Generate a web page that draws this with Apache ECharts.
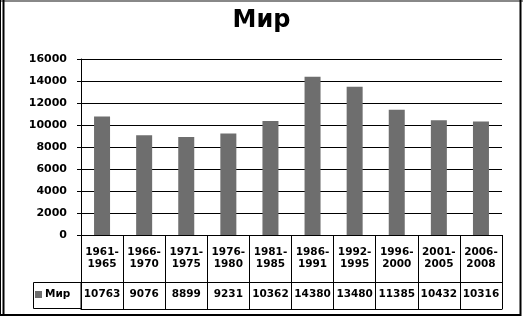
<!doctype html>
<html><head><meta charset="utf-8" />
<style>
  html,body,#app{margin:0;padding:0;width:523px;height:320px;background:#ffffff;overflow:hidden}
</style>
<script src="https://cdn.jsdelivr.net/npm/echarts@6.0.0/dist/echarts.min.js"></script>
</head><body><div id="app"></div>
<script>
// data
const periods = ['1961-\n1965','1966-\n1970','1971-\n1975','1976-\n1980','1981-\n1985','1986-\n1991','1992-\n1995','1996-\n2000','2001-\n2005','2006-\n2008'];
const mirValues = [10763, 9076, 8899, 9231, 10362, 14380, 13480, 11385, 10432, 10316];
const yTicks = { min: 0, max: 16000, step: 2000 };
const seriesName = 'Мир';

const font = 'DejaVu Sans';
const barColor = '#6e6e6e';
const chart = echarts.init(document.getElementById('app'), null, { renderer: 'canvas' });

const option = {
  backgroundColor: '#ffffff',
  animation: false,
  title: { text: seriesName, left: 'center', top: 4,
    textStyle: { fontFamily: font, fontSize: 24, fontWeight: 'bold', color: '#000' } },
  legend: { data: [seriesName], left: 35, top: 289, itemWidth: 7, itemHeight: 7, itemGap: 2, icon: 'rect',
    padding: 0, textStyle: { fontFamily: font, fontSize: 10.5, fontWeight: 'bold', color: '#000', padding: [0, 0, 0, -2] } },
  grid: { left: 81, right: 21, top: 59, bottom: 85, containLabel: false },
  xAxis: [
    { type: 'category', data: periods, position: 'bottom',
      axisLine: { lineStyle: { color: '#000', width: 1 } },
      axisTick: { show: true, interval: 0, length: 74, lineStyle: { color: '#000' } },
      axisLabel: { interval: 0, margin: 11, lineHeight: 12, fontFamily: font, fontSize: 10.5, fontWeight: 'bold', color: '#000' } },
    { type: 'category', data: periods, position: 'bottom', offset: 47,
      axisLine: { lineStyle: { color: '#000', width: 1 } }, axisTick: { show: false },
      axisLabel: { interval: 0, margin: 7, fontFamily: font, fontSize: 10.5, fontWeight: 'bold', color: '#000',
        formatter: function (v, i) { return String(mirValues[i]); } } },
    { type: 'category', data: periods, position: 'bottom', offset: 74,
      axisLine: { lineStyle: { color: '#000', width: 1 } }, axisTick: { show: false }, axisLabel: { show: false } }
  ],
  yAxis: { type: 'value', min: yTicks.min, max: yTicks.max, interval: yTicks.step,
    axisLine: { show: true, lineStyle: { color: '#000' } },
    axisTick: { show: true, length: 4, lineStyle: { color: '#000' } },
    axisLabel: { margin: 14, fontFamily: font, fontSize: 11, fontWeight: 'bold', color: '#000',
      formatter: function (v) { return String(v); } },
    splitLine: { lineStyle: { color: '#000', width: 1 } } },
  graphic: [
    // legend cell of the data table
    { type: 'rect', shape: { x: 33.5, y: 282.5, width: 47.5, height: 26 }, style: { fill: 'none', stroke: '#000', lineWidth: 1 } },
    // outer frame
    { type: 'rect', shape: { x: 0, y: 0, width: 523, height: 2 }, style: { fill: '#888' } },
    { type: 'line', shape: { x1: 0.5, y1: 0, x2: 0.5, y2: 316 }, style: { stroke: '#000', lineWidth: 1 } },
    { type: 'line', shape: { x1: 3.5, y1: 0, x2: 3.5, y2: 316 }, style: { stroke: '#000', lineWidth: 2 } },
    { type: 'line', shape: { x1: 520.5, y1: 0, x2: 520.5, y2: 316 }, style: { stroke: '#000', lineWidth: 2 } },
    { type: 'line', shape: { x1: 0, y1: 315, x2: 521, y2: 315 }, style: { stroke: '#000', lineWidth: 2 } }
  ],
  series: [
    { name: seriesName, type: 'bar', data: mirValues, barWidth: 16, itemStyle: { color: barColor } }
  ]
};
chart.setOption(option);
</script></body></html>
